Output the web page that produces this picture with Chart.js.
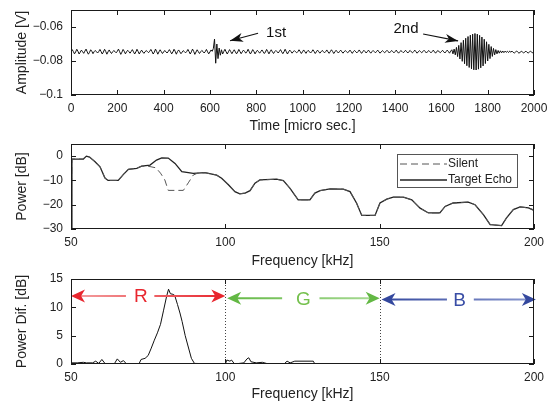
<!DOCTYPE html>
<html>
<head>
<meta charset="utf-8">
<script src="https://cdn.jsdelivr.net/npm/chart.js@4/dist/chart.umd.min.js"></script>
<style>
  body { margin: 0; background: #fff; }
  .panel { position: absolute; left: 0; width: 555px; height: 135px; }
</style>
</head>
<body>
<div class="panel" style="top:0px"><canvas id="waveChart"></canvas></div>
<div class="panel" style="top:135px"><canvas id="powerChart"></canvas></div>
<div class="panel" style="top:270px"><canvas id="difChart"></canvas></div>
<script>
'use strict';

// ---- data ----
const timeStepUs = 5;
// amplitude in mV, one value every 5 micro sec from 0 to 2000
const amplitudeMv = [
  -74.6,-73.3,-74.4,-75.8,-74.7,-73.1,-74.3,-75.9,-74.8,-73.6,-74.5,-75.5,-74.2,-73.0,-74.6,-76.0,-74.9,-73.4,-74.3,-75.7,
  -74.5,-73.8,-74.6,-75.3,-74.4,-73.2,-74.5,-75.9,-74.7,-73.1,-74.4,-76.0,-74.6,-73.5,-74.7,-75.6,-74.5,-73.9,-74.4,-75.2,
  -74.3,-73.0,-74.5,-76.1,-74.8,-73.2,-74.3,-75.8,-74.6,-73.7,-74.5,-75.4,-74.4,-73.3,-74.6,-75.9,-74.7,-73.1,-74.4,-75.9,
  -74.6,-73.6,-74.7,-75.5,-74.5,-73.9,-74.4,-75.1,-74.3,-73.2,-74.5,-75.9,-74.8,-73.0,-74.4,-76.0,-74.6,-73.4,-74.5,-75.6,
  -74.7,-73.8,-74.6,-75.3,-74.4,-73.3,-74.5,-75.8,-74.7,-73.1,-74.3,-76.0,-74.5,-73.5,-74.6,-75.7,-74.8,-73.9,-74.5,-75.2,
  -74.4,-73.2,-74.5,-75.9,-74.6,-73.0,-74.4,-76.1,-74.7,-73.4,-74.5,-75.6,-74.6,-73.8,-74.4,-75.3,-74.5,-73.2,-74.6,-75.8,
  -74.7,-73.5,-74.3,-72.6,-67.1,-81.3,-70.0,-78.6,-72.4,-76.6,-73.4,-75.9,-74.4,-73.1,-74.6,-75.9,-74.6,-73.3,-74.5,-75.7,
  -74.5,-73.4,-74.6,-75.8,-74.7,-73.2,-74.5,-75.7,-74.6,-73.6,-74.4,-75.4,-74.5,-73.1,-74.6,-75.9,-74.7,-73.3,-74.4,-75.8,
  -74.6,-73.7,-74.5,-75.4,-74.4,-73.5,-74.6,-75.6,-74.7,-73.2,-74.4,-75.8,-74.5,-73.4,-74.6,-75.6,-74.5,-73.8,-74.5,-75.3,
  -74.4,-73.3,-74.6,-75.7,-74.6,-73.1,-74.5,-75.9,-74.6,-73.6,-74.4,-75.4,-74.5,-73.9,-74.6,-75.2,-74.5,-73.4,-74.4,-75.6,
  -74.6,-73.5,-74.5,-75.5,-74.4,-73.7,-74.6,-75.3,-74.5,-73.4,-74.4,-75.6,-74.6,-73.6,-74.5,-75.4,-74.6,-73.8,-74.4,-75.2,
  -74.5,-73.5,-74.6,-75.5,-74.5,-73.4,-74.4,-75.6,-74.6,-73.7,-74.5,-75.3,-74.4,-73.6,-74.6,-75.4,-74.5,-73.9,-74.5,-75.1,
  -74.6,-73.6,-74.5,-75.5,-74.4,-73.8,-74.6,-75.2,-74.5,-73.5,-74.5,-75.5,-74.6,-73.7,-74.4,-75.3,-74.5,-73.6,-74.6,-75.4,
  -74.5,-73.8,-74.5,-75.2,-74.4,-73.6,-74.6,-75.4,-74.6,-73.9,-74.5,-75.1,-74.5,-73.7,-74.4,-75.3,-74.6,-73.8,-74.5,-75.2,
  -74.5,-73.6,-74.6,-75.4,-74.5,-73.9,-74.4,-75.1,-74.6,-73.7,-74.5,-75.3,-74.4,-73.8,-74.6,-75.2,-74.5,-73.6,-74.5,-75.4,
  -74.6,-73.9,-74.5,-75.1,-74.5,-73.7,-74.4,-75.3,-74.6,-73.8,-74.5,-75.2,-74.5,-73.6,-74.6,-75.4,-74.4,-73.9,-74.5,-75.1,
  -74.5,-73.7,-74.6,-75.3,-74.5,-73.6,-74.4,-75.4,-74.2,-73.4,-75.8,-73.0,-76.4,-72.0,-77.4,-70.8,-78.8,-69.2,-80.2,-67.8,
  -81.6,-66.6,-82.8,-65.6,-83.8,-64.8,-84.6,-64.2,-85.2,-63.8,-85.3,-64.2,-84.8,-64.9,-84.0,-65.9,-82.9,-67.2,-81.5,-68.7,
  -80.0,-70.2,-78.6,-71.5,-77.3,-72.6,-76.4,-73.3,-75.8,-73.8,-75.4,-74.0,-75.2,-74.1,-75.1,-74.2,-74.9,-74.3,-75.0,-74.2,
  -74.8,-74.2,-74.9,-75.3,-74.7,-74.1,-74.8,-75.4,-74.9,-74.3,-74.7,-75.2,-74.8,-74.2,-74.9,-75.3,-74.7,-74.3,-74.8,-75.2,
  -74.8
];
const timeTicks = [0, 200, 400, 600, 800, 1000, 1200, 1400, 1600, 1800, 2000];
const amplitudeTicks = [-0.1, -0.08, -0.06];

const freqTicks = [50, 100, 150, 200];
const powerTicks = [-30, -20, -10, 0];
const echoFreq = [50, 50.3, 54, 55, 56, 57.8, 59.4, 61, 62, 65.3, 67, 68.6, 71.3, 72.9, 75.6, 77.7, 79.4, 81.5, 83.7, 85.9,
  89.6, 93.4, 97.2, 98.8, 101, 103.1, 104.7, 106.4, 108, 109.6, 111.2, 116.6, 118.8, 120.9, 123.6, 127.4, 129, 130.7, 133.9, 138.2,
  140.4, 142.5, 144.2, 148.5, 150.1, 152.3, 154.4, 157.7, 160.4, 163.1, 165.8, 169.5, 171.2, 173.8, 178.7, 180.9, 183.6, 185.8, 189.5, 191.1,
  193.3, 195.5, 198.2, 200];
const echoPower = [-30, -1.2, -1.2, 0, -0.4, -2.3, -4.4, -9, -10, -10, -7.5, -5.4, -5, -4.1, -3.7, -1.6, -0.7, -0.8, -3, -6.4,
  -7.1, -6.8, -7.8, -9.1, -11.8, -14.6, -15.5, -15.2, -14.2, -11.1, -9.8, -9.5, -10.1, -13.2, -18, -18, -15.2, -14.2, -13.5, -13.6,
  -14.6, -19.3, -24.4, -24.4, -19.3, -17.7, -16.9, -16.9, -18, -21.4, -23.4, -23.4, -20.7, -19.3, -18.9, -20, -24.1, -28.2, -28.6, -25.4,
  -22, -20.9, -21.3, -22.3];
const silentFreq = [50, 50.3, 54, 55, 56, 57.8, 59.4, 61, 62, 65.3, 67, 68.6, 71.3, 72.9, 75.6, 77.5, 79, 80.4, 81.5, 86.4,
  88, 89.6, 91, 93.4, 97.2, 98.8, 101, 103.1, 104.7, 106.4, 108, 109.6, 111.2, 116.6, 118.8, 120.9, 123.6, 127.4, 129, 130.7,
  133.9, 138.2, 140.4, 142.5, 144.2, 148.5, 150.1, 152.3, 154.4, 157.7, 160.4, 163.1, 165.8, 169.5, 171.2, 173.8, 178.7, 180.9, 183.6, 185.8,
  189.5, 191.1, 193.3, 195.5, 198.2, 200];
const silentPower = [-30, -1.2, -1.2, 0, -0.4, -2.3, -4.4, -9, -10, -10, -7.5, -5.4, -5, -4.1, -4.3, -4.8, -7, -9.8, -14.1, -14.1,
  -11, -7.8, -7, -6.8, -7.8, -9.1, -11.8, -14.6, -15.5, -15.2, -14.2, -11.1, -9.8, -9.5, -10.1, -13.2, -18, -18, -15.2, -14.2,
  -13.5, -13.6, -14.6, -19.3, -24.4, -24.4, -19.3, -17.7, -16.9, -16.9, -18, -21.4, -23.4, -23.4, -20.7, -19.3, -18.9, -20, -24.1, -28.2,
  -28.6, -25.4, -22, -20.9, -21.3, -22.3];

const difTicks = [0, 5, 10, 15];
const difFreq = [50, 52, 54, 55, 57, 58, 59, 60, 61, 62, 64, 65, 66, 67, 68, 72, 72.7, 74, 75, 76,
  77, 78, 79, 80, 81, 81.6, 82.2, 83, 83.6, 84.5, 85.3, 86, 87, 88, 89, 90, 100, 100.5, 101.5, 102,
  103, 106, 107, 107.6, 108.3, 110, 112, 114, 119, 120, 121, 122.5, 128.5, 129, 200];
const difPower = [0.2, 0.2, 0.3, 0.2, 0.2, 0.5, 0.1, 0.8, 0.1, 0, 0, 0.9, 0.3, 0.6, 0, 0, 0.8, 1.0, 1.5, 2.8,
  4.2, 5.5, 7, 9.5, 12, 13.2, 12.4, 12.3, 12.1, 10.5, 9, 7.5, 5, 3, 1, 0.1, 0, 0.7, 0.5, 0.7,
  0, 0.2, 0.9, 1.1, 0.4, 0.2, 0.3, 0, 0, 0.5, 0.2, 0.5, 0.5, 0, 0];
const bandNames = ['R', 'G', 'B'];
const bandEdges = [50, 100, 150, 200];

// ---- helpers ----
Chart.defaults.font.family = "'Liberation Sans', Arial, sans-serif";
Chart.defaults.font.size = 12;
Chart.defaults.color = '#222';

function minusFmt(v) {
  return String(+Number(v).toFixed(3)).replace('-', '\u2212');
}

function fixedTicks(list) {
  return function (scale) {
    scale.ticks = list.map(v => ({ value: v }));
  };
}

function pairs(xs, ys) {
  return xs.map((x, i) => ({ x: x, y: ys[i] }));
}

function axisX(min, max, ticks, title, h, titlePadBottom) {
  return {
    type: 'linear', min: min, max: max,
    afterBuildTicks: fixedTicks(ticks),
    afterFit: s => { s.height = h; s.paddingLeft = 0; s.paddingRight = 0; },
    grid: { display: false, drawTicks: false },
    border: { display: false },
    ticks: { padding: 6, maxRotation: 0, font: { size: 12 }, callback: v => String(v) },
    title: { display: true, text: title, font: { size: 14 }, padding: { top: 0, bottom: titlePadBottom } }
  };
}

function axisY(min, max, ticks, title) {
  return {
    min: min, max: max,
    afterBuildTicks: fixedTicks(ticks),
    afterFit: s => { s.width = 61; s.paddingTop = 0; s.paddingBottom = 0; },
    grid: { display: false, drawTicks: false },
    border: { display: false },
    ticks: { padding: 8, callback: minusFmt, font: { size: 12 } },
    title: { display: true, text: title, font: { size: 14 }, padding: { top: 4, bottom: 0 } }
  };
}

// box around the axes with inward tick marks (MATLAB look)
const framePlugin = {
  id: 'framePlugin',
  afterDraw(chart) {
    const { ctx, chartArea: a, scales: { x, y } } = chart;
    ctx.save();
    ctx.strokeStyle = '#1a1a1a';
    ctx.lineWidth = 1;
    ctx.strokeRect(a.left + 0.5, a.top + 0.5, a.right - a.left - 1, a.bottom - a.top - 1);
    ctx.beginPath();
    x.ticks.forEach(t => {
      const px = Math.round(x.getPixelForValue(t.value)) + 0.5;
      ctx.moveTo(px, a.bottom); ctx.lineTo(px, a.bottom - 5);
      ctx.moveTo(px, a.top); ctx.lineTo(px, a.top + 5);
    });
    y.ticks.forEach(t => {
      const py = Math.round(y.getPixelForValue(t.value)) + 0.5;
      ctx.moveTo(a.left, py); ctx.lineTo(a.left + 5, py);
      ctx.moveTo(a.right, py); ctx.lineTo(a.right - 5, py);
    });
    ctx.stroke();
    ctx.restore();
  }
};

function arrowHead(ctx, tipX, tipY, fromX, fromY, len, halfW, color) {
  const ang = Math.atan2(tipY - fromY, tipX - fromX);
  ctx.save();
  ctx.translate(tipX, tipY);
  ctx.rotate(ang);
  ctx.beginPath();
  ctx.moveTo(0, 0);
  ctx.lineTo(-len, -halfW);
  ctx.lineTo(-len * 0.72, 0);
  ctx.lineTo(-len, halfW);
  ctx.closePath();
  ctx.fillStyle = color;
  ctx.fill();
  ctx.restore();
}

// "1st" / "2nd" notes on the waveform
const notePlugin = {
  id: 'notePlugin',
  afterDatasetsDraw(chart) {
    const { ctx, scales: { x, y } } = chart;
    const notes = [
      { text: '1st', tx: 886, ty: -0.0632, from: [808, -0.0637], to: [687, -0.0681] },
      { text: '2nd', tx: 1447, ty: -0.0608, from: [1521, -0.0641], to: [1672, -0.0682] }
    ];
    ctx.save();
    notes.forEach(n => {
      const fx = x.getPixelForValue(n.from[0]), fy = y.getPixelForValue(n.from[1]);
      const tx = x.getPixelForValue(n.to[0]), ty = y.getPixelForValue(n.to[1]);
      ctx.strokeStyle = '#111';
      ctx.lineWidth = 1.2;
      ctx.beginPath();
      ctx.moveTo(fx, fy);
      ctx.lineTo(tx, ty);
      ctx.stroke();
      arrowHead(ctx, tx, ty, fx, fy, 13, 4.5, '#111');
      ctx.fillStyle = '#111';
      ctx.font = "15px 'Liberation Sans', Arial, sans-serif";
      ctx.textAlign = 'center';
      ctx.textBaseline = 'middle';
      ctx.fillText(n.text, x.getPixelForValue(n.tx), y.getPixelForValue(n.ty));
    });
    ctx.restore();
  }
};

// legend box of the power plot
const legendPlugin = {
  id: 'legendPlugin',
  afterDraw(chart) {
    const { ctx, chartArea: a } = chart;
    const bx = a.right - 137, by = a.top + 10, bw = 120, bh = 33;
    ctx.save();
    ctx.fillStyle = '#fff';
    ctx.fillRect(bx, by, bw, bh);
    ctx.strokeStyle = '#555';
    ctx.lineWidth = 1;
    ctx.strokeRect(bx + 0.5, by + 0.5, bw, bh);
    ctx.font = "12px 'Liberation Sans', Arial, sans-serif";
    ctx.textBaseline = 'middle';
    chart.data.datasets.forEach((ds, i) => {
      const ly = by + 10 + i * 16;
      ctx.strokeStyle = ds.borderColor;
      ctx.lineWidth = ds.borderWidth;
      ctx.setLineDash(ds.borderDash || []);
      ctx.beginPath();
      ctx.moveTo(bx + 3, ly);
      ctx.lineTo(bx + 50, ly);
      ctx.stroke();
      ctx.setLineDash([]);
      ctx.fillStyle = '#222';
      ctx.fillText(ds.label, bx + 51, ly);
    });
    ctx.restore();
  }
};

// R / G / B band arrows and dotted band limits
const bandPlugin = {
  id: 'bandPlugin',
  afterDatasetsDraw(chart) {
    const { ctx, chartArea: a, scales: { x, y } } = chart;
    const looks = [
      { y: 12.0, text: '#e8262e', light: '#f4a3a3', dark: '#e8262e', gap: [67.8, 77.0], lx: 72.6, tip: [50, 100] },
      { y: 11.6, text: '#74c04c', light: '#a9db96', dark: '#63b844', gap: [118.4, 130.5], lx: 125.3, tip: [100.6, 150] },
      { y: 11.4, text: '#3a4ea6', light: '#8c9ad0', dark: '#34489e', gap: [171.8, 180.5], lx: 175.9, tip: [150.6, 200.6] }
    ];
    ctx.save();
    // dotted limits
    ctx.strokeStyle = '#444';
    ctx.lineWidth = 1;
    ctx.setLineDash([1, 2]);
    ctx.beginPath();
    bandEdges.slice(1, -1).forEach(f => {
      const px = Math.round(x.getPixelForValue(f)) + 0.5;
      ctx.moveTo(px, a.top); ctx.lineTo(px, a.bottom);
    });
    ctx.stroke();
    ctx.setLineDash([]);

    bandNames.forEach((name, i) => {
      const s = looks[i];
      const py = y.getPixelForValue(s.y);
      const x0 = x.getPixelForValue(s.tip[0]), x1 = x.getPixelForValue(s.tip[1]);
      const g0 = x.getPixelForValue(s.gap[0]), g1 = x.getPixelForValue(s.gap[1]);
      const grad = ctx.createLinearGradient(x0, 0, x1, 0);
      grad.addColorStop(0, i === 0 ? s.light : s.dark);
      grad.addColorStop(1, i === 0 ? s.dark : s.light);
      ctx.strokeStyle = grad;
      ctx.lineWidth = 2;
      ctx.beginPath();
      ctx.moveTo(x0 + 8, py); ctx.lineTo(g0, py);
      ctx.moveTo(g1, py); ctx.lineTo(x1 - 8, py);
      ctx.stroke();
      arrowHead(ctx, x0, py, x0 + 20, py, 14, 6.5, s.dark);
      arrowHead(ctx, x1, py, x1 - 20, py, 14, 6.5, s.dark);
      ctx.fillStyle = s.text;
      ctx.font = "19px 'Liberation Sans', Arial, sans-serif";
      ctx.textAlign = 'center';
      ctx.textBaseline = 'middle';
      ctx.fillText(name, x.getPixelForValue(s.lx), py + 1);
    });
    ctx.restore();
  }
};

const baseOptions = {
  responsive: true,
  maintainAspectRatio: false,
  animation: false,
  events: [],
  plugins: { legend: { display: false }, tooltip: { enabled: false } },
  elements: { point: { radius: 0 }, line: { tension: 0 } }
};

// ---- top: waveform ----
new Chart(document.getElementById('waveChart'), {
  type: 'line',
  data: {
    datasets: [{
      data: amplitudeMv.map((v, i) => ({ x: i * timeStepUs, y: v / 1000 })),
      borderColor: '#111',
      borderWidth: 1
    }]
  },
  options: Object.assign({}, baseOptions, {
    layout: { padding: { left: 10, right: 21, top: 10, bottom: 0 } },
    scales: {
      x: axisX(0, 2000, timeTicks, 'Time [micro sec.]', 40, 0),
      y: axisY(-0.1, -0.05, amplitudeTicks, 'Amplitude [V]')
    }
  }),
  plugins: [framePlugin, notePlugin]
});

// ---- middle: power spectra ----
new Chart(document.getElementById('powerChart'), {
  type: 'line',
  data: {
    datasets: [
      { label: 'Silent', data: pairs(silentFreq, silentPower), borderColor: '#555', borderWidth: 1, borderDash: [7, 4] },
      { label: 'Target Echo', data: pairs(echoFreq, echoPower), borderColor: '#222', borderWidth: 1.3 }
    ]
  },
  options: Object.assign({}, baseOptions, {
    layout: { padding: { left: 10, right: 21, top: 9, bottom: 0 } },
    scales: {
      x: axisX(50, 200, freqTicks, 'Frequency [kHz]', 41, 0),
      y: axisY(-30, 5, powerTicks, 'Power [dB]')
    }
  }),
  plugins: [framePlugin, legendPlugin]
});

// ---- bottom: power difference ----
new Chart(document.getElementById('difChart'), {
  type: 'line',
  data: {
    datasets: [{ data: pairs(difFreq, difPower), borderColor: '#111', borderWidth: 1 }]
  },
  options: Object.assign({}, baseOptions, {
    layout: { padding: { left: 10, right: 21, top: 9, bottom: 0 } },
    scales: {
      x: axisX(50, 200, freqTicks, 'Frequency [kHz]', 41, 2),
      y: axisY(0, 15, difTicks, 'Power Dif. [dB]')
    }
  }),
  plugins: [bandPlugin, framePlugin]
});
</script>
</body>
</html>
